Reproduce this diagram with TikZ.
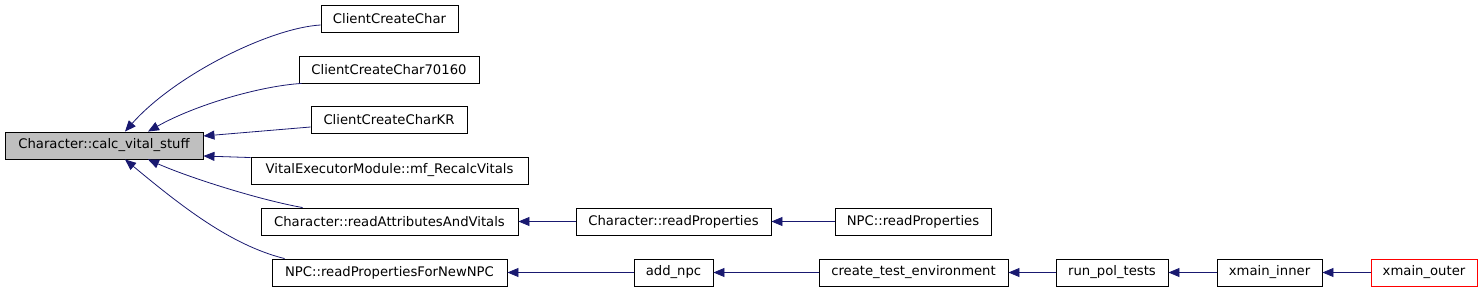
\documentclass[tikz,border=0pt]{standalone}
\usepackage{fontspec}
\setmainfont{DejaVu Sans}
\usetikzlibrary{arrows.meta,calc}
\definecolor{edgeblue}{HTML}{191970}
\definecolor{mainfill}{HTML}{BFBFBF}
\begin{document}
\begin{tikzpicture}[x=1pt,y=-1pt,
  fn/.style={draw=black, line width=0.9pt, minimum height=27pt, inner sep=0pt,
    font=\fontsize{13.2}{16}\selectfont, anchor=center},
  callerline/.style={draw=edgeblue, line width=0.8pt,
    -{Triangle[length=11pt,width=9pt,fill=edgeblue]}}]
\useasboundingbox (0,0) rectangle (1483,291);
\node[fn, fill=mainfill, minimum width=198pt] (main) at (104,145.5) {Character::calc\_vital\_stuff};
\node[fn, minimum width=137pt] (ccc) at (389.5,18.5) {ClientCreateChar};
\node[fn, minimum width=180pt] (c70) at (389,69.5) {ClientCreateChar70160};
\node[fn, minimum width=156pt] (ckr) at (389,120) {ClientCreateCharKR};
\node[fn, minimum width=277pt] (vem) at (389.5,170.5) {VitalExecutorModule::mf\_RecalcVitals};
\node[fn, minimum width=257pt] (rav) at (389.5,221.5) {Character::readAttributesAndVitals};
\node[fn, minimum width=235pt] (npn) at (389.5,272.5) {NPC::readPropertiesForNewNPC};
\node[fn, minimum width=195pt] (crp) at (673.5,221.5) {Character::readProperties};
\node[fn, minimum width=156pt] (nrp) at (913,221.5) {NPC::readProperties};
\node[fn, minimum width=79pt] (add) at (673.5,272.5) {add\_npc};
\node[fn, minimum width=189pt] (cte) at (913.5,272.5) {create\_test\_environment};
\node[fn, minimum width=112pt] (rpt) at (1112,272.5) {run\_pol\_tests};
\node[fn, minimum width=105pt] (xin) at (1269.5,272.5) {xmain\_inner};
\node[fn, draw=red, minimum width=106pt] (xout) at (1424,272.5) {xmain\_outer};

\draw[callerline] ([yshift=-6.5pt]ccc.west) .. controls (270,28) and (175,75) .. ([xshift=21pt]main.north);
\draw[callerline] ([xshift=3pt]c70.south west) .. controls (260,86) and (195,105) .. ([xshift=44pt]main.north);
\draw[callerline] ([yshift=-7pt]ckr.west) -- ([yshift=9.5pt]main.east);
\draw[callerline] ([yshift=-1pt]vem.north west) -- ([yshift=-10.5pt]main.east);
\draw[callerline] ([xshift=42pt]rav.north west) .. controls (260,200) and (190,178) .. ([xshift=44pt]main.south);
\draw[callerline] ([xshift=13pt]npn.north west) .. controls (230,245) and (180,205) .. ([xshift=21pt]main.south);
\draw[callerline] (crp) -- (rav);
\draw[callerline] (nrp) -- (crp);
\draw[callerline] (add) -- (npn);
\draw[callerline] (cte) -- (add);
\draw[callerline] (rpt) -- (cte);
\draw[callerline] (xin) -- (rpt);
\draw[callerline] (xout) -- (xin);
\end{tikzpicture}
\end{document}
